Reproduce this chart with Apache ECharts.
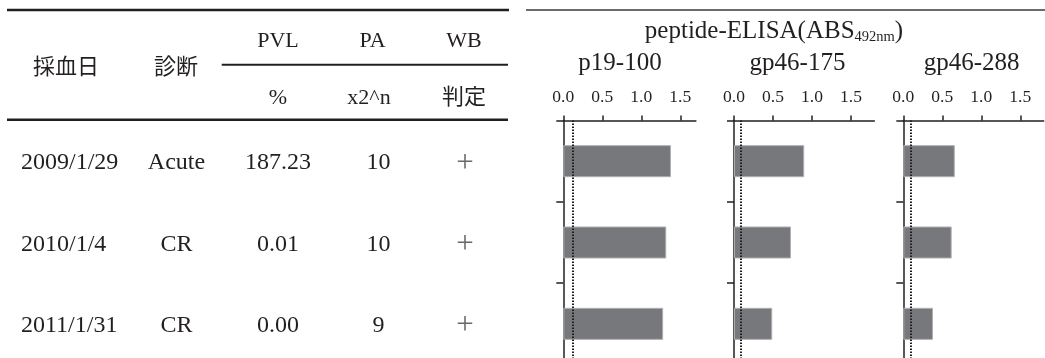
<!DOCTYPE html>
<html>
<head>
<meta charset="utf-8">
<script src="https://cdn.jsdelivr.net/npm/echarts@6/dist/echarts.min.js"></script>
<style>
html,body{margin:0;padding:0;background:#fff;}
#c{width:1045px;height:358px;}
</style>
</head>
<body>
<div id="c"></div>
<script>
// ---- data ----
const dates = ['2009/1/29', '2010/1/4', '2011/1/31'];
const diagnosis = ['Acute', 'CR', 'CR'];
const pvl = ['187.23', '0.01', '0.00'];
const pa = ['10', '10', '9'];
const wb = ['+', '+', '+'];
const peptides = ['p19-100', 'gp46-175', 'gp46-288'];
const p19_100 = [1.38, 1.32, 1.28];
const gp46_175 = [0.90, 0.73, 0.49];
const gp46_288 = [0.66, 0.62, 0.38];
const cutoffs = [0.115, 0.085, 0.105];
const axisMax = [1.7, 1.8, 1.8];
const tickValues = [0, 0.5, 1.0, 1.5];
const headerTop = ['PVL', 'PA', 'WB'];
const headerSub = ['%', 'x2^n', '判定'];
const headerLeft = ['採血日', '診断'];
const titleMain = 'peptide-ELISA(ABS';
const titleSub = '492nm';

// ---- layout / style ----
const seriesValues = [p19_100, gp46_175, gp46_288];
const FONT = '"Liberation Serif", "Noto Sans CJK JP", serif';
const INK = '#231f20';
const unitPx = 78;
const gridLeft = [563.3, 734, 903.3];
const gridTop = 120.5;
const gridHeight = 244;

const chart = echarts.init(document.getElementById('c'), null, {renderer: 'canvas'});

const grids = [], xAxes = [], yAxes = [], series = [];
for (let i = 0; i < 3; i++) {
  grids.push({left: gridLeft[i], top: gridTop, width: axisMax[i] * unitPx, height: gridHeight, containLabel: false, outerBoundsMode: 'none'});
  xAxes.push({
    gridIndex: i, type: 'value', position: 'top', min: 0, max: axisMax[i], interval: 0.5,
    axisLine: {show: true, lineStyle: {color: INK, width: 1.5}},
    axisTick: {show: true, length: 5, customValues: tickValues, lineStyle: {color: INK, width: 1.5}},
    splitLine: {show: false},
    axisLabel: {customValues: tickValues, formatter: v => Number(v).toFixed(1), fontSize: 17.5, color: INK, fontFamily: FONT, margin: 14}
  });
  yAxes.push({
    gridIndex: i, type: 'category', data: dates, inverse: true,
    axisLine: {show: true, lineStyle: {color: INK, width: 1.5}},
    axisTick: {show: true, length: 7, alignWithLabel: false, lineStyle: {color: INK, width: 1.5}},
    axisLabel: {show: false}, splitLine: {show: false}
  });
  series.push({
    type: 'bar', xAxisIndex: i, yAxisIndex: i, data: seriesValues[i], barWidth: 32,
    itemStyle: {color: '#77787b', borderColor: '#aeaeb0', borderWidth: 1},
    silent: true,
    markLine: {
      silent: true, symbol: 'none', label: {show: false},
      lineStyle: {type: [1.5, 1.5], color: '#1e1e1e', width: 2},
      data: [{xAxis: cutoffs[i]}]
    }
  });
}

chart.setOption({
  animation: false,
  backgroundColor: '#fff',
  grid: grids, xAxis: xAxes, yAxis: yAxes, series: series
});

// ---- table & titles as graphic elements ----
const g = [];
function txt(x, y, s, size, align, color, weight) {
  g.push({
    type: 'text', x: x, y: y, silent: true,
    style: {text: s, fill: color || INK, font: (weight ? weight + ' ' : '') + size + 'px ' + FONT, textAlign: align || 'center', textVerticalAlign: 'middle'}
  });
}
function hline(x1, x2, y, w, color) {
  g.push({type: 'line', silent: true, shape: {x1: x1, y1: y, x2: x2, y2: y}, style: {stroke: color || INK, lineWidth: w}});
}
hline(7, 509, 10, 2.5);
hline(221.7, 508, 64.7, 2);
hline(7, 508, 119.8, 2.5);
hline(526, 1045, 10, 1.5, '#3a3a3a');

const colX = [278, 372.6, 464];
headerTop.forEach((s, i) => txt(colX[i], 41, s, 22));
const subX = [278, 369, 464];
headerSub.forEach((s, i) => txt(subX[i], 98.5, s, 22));
txt(66, 68, headerLeft[0], 22);
txt(176, 68, headerLeft[1], 22);

for (let r = 0; r < dates.length; r++) {
  const y = chart.convertToPixel({yAxisIndex: 0}, dates[r]) + 2;
  txt(21, y, dates[r], 24, 'left');
  txt(176.5, y, diagnosis[r], 24);
  txt(278, y, pvl[r], 24);
  txt(378.5, y, pa[r], 24);
  txt(465, y + 0.5, wb[r], 31, 'center', '#6a6a6a', '300');
}

const subCenters = [620, 797.5, 971.7];
peptides.forEach((s, i) => txt(subCenters[i], 63, s, 25));

g.push({
  type: 'text', x: 774, y: 30, silent: true,
  style: {
    text: '{a|' + titleMain + '}{s|' + titleSub + '}{a|)}',
    textAlign: 'center', textVerticalAlign: 'middle',
    rich: {
      a: {fontSize: 25, fontFamily: FONT, fill: INK, color: INK, verticalAlign: 'bottom', lineHeight: 28},
      s: {fontSize: 14.5, fontFamily: FONT, fill: INK, color: INK, verticalAlign: 'bottom', lineHeight: 22}
    }
  }
});

chart.setOption({graphic: {elements: g}});
</script>
</body>
</html>
